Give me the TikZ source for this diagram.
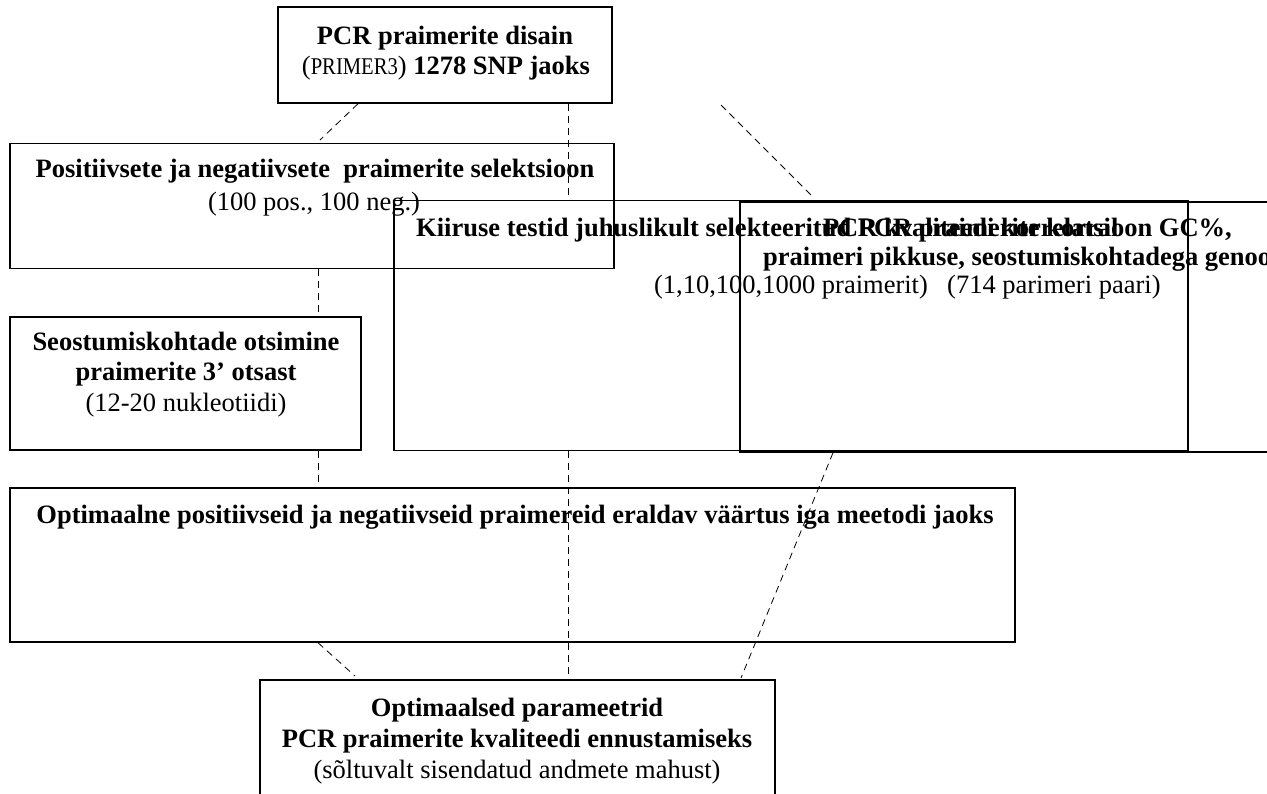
\documentclass[tikz,border=0pt]{standalone}
\usepackage{fontspec}
\setmainfont{Liberation Serif}
\begin{document}
\begin{tikzpicture}[x=1pt,y=-1pt,
  box/.style={draw, line width=1.5pt, inner sep=0pt, fill=none},
  conn/.style={draw, dash pattern=on 7pt off 5pt, line width=0.8pt},
  bt/.style={font=\bfseries\fontsize{26.5}{30}\selectfont, inner sep=0pt},
  rt/.style={font=\fontsize{26.5}{30}\selectfont, inner sep=0pt}]
\useasboundingbox (0,0) rectangle (1267,793);
\clip (0,0) rectangle (1267,793);
% boxes
\node[box, minimum width=334pt, minimum height=96pt] (top) at (445,55) {};
\node[box, minimum width=604pt, minimum height=125pt] (pos) at (312,206) {};
\node[box, minimum width=794pt, minimum height=250pt] (kiir) at (791,325.5) {};
\node[box, minimum width=592pt, minimum height=250pt] (kval) at (1036,327) {};
\node[box, minimum width=351pt, minimum height=133pt] (seos) at (185.5,383.5) {};
\node[box, minimum width=1005pt, minimum height=154pt] (opt) at (512.5,565) {};
\node[box, minimum width=515pt, minimum height=150pt] (par) at (517.5,755) {};
% texts
\node[bt, anchor=base] (t1) at (445,44) {PCR praimerite disain};
\node[bt, anchor=base] (t2) at (446,74) {\mdseries(\scalebox{0.86}[1]{\fontsize{24}{24}\selectfont PRIMER3})\bfseries{} 1278 SNP jaoks};
\node[bt, anchor=base] (p1) at (315,177) {Positiivsete ja negatiivsete\ \ praimerite selektsioon};
\node[rt, anchor=base] (p2) at (314,210) {(100 pos., 100 neg.)};
\node[bt, anchor=base west] (k1) at (416,236) {Kiiruse testid juhuslikult selekteeritud PCR praimerite korral};
\node[rt, anchor=base] (k2) at (791,293) {(1,10,100,1000 praimerit)};
\node[bt, anchor=base east] (q1) at (1232,236) {PCR kvaliteedi korrelatsioon GC\%,};
\node[bt, anchor=base west] (q2) at (763,265) {praimeri pikkuse, seostumiskohtadega genoomis};
\node[rt, anchor=base west] (q3) at (947,293) {(714 parimeri paari)};
\node[bt, anchor=base] (s1) at (186,350) {Seostumiskohtade otsimine};
\node[bt, anchor=base] (s2) at (186,380) {praimerite 3’ otsast};
\node[rt, anchor=base] (s3) at (186,411) {(12-20 nukleotiidi)};
\node[bt, anchor=base] (o1) at (515,523) {Optimaalne positiivseid ja negatiivseid praimereid eraldav väärtus iga meetodi jaoks};
\node[bt, anchor=base] (b1) at (517,716) {Optimaalsed parameetrid};
\node[bt, anchor=base] (b2) at (517,747) {PCR praimerite kvaliteedi ennustamiseks};
\node[rt, anchor=base] (b3) at (517,778) {(sõltuvalt sisendatud andmete mahust)};
% connector end points
\coordinate (c1a) at (top.south -| 358,0);
\coordinate (c1b) at (320,140);
\coordinate (c2a) at (top.south -| 568,0);
\coordinate (c2b) at (kiir.north -| 568,0);
\coordinate (c3a) at (721,105);
\coordinate (c3b) at (813,197);
\coordinate (c4a) at (pos.south -| 318,0);
\coordinate (c4b) at (seos.north -| 318,0);
\coordinate (c5a) at (seos.south -| 318,0);
\coordinate (c5b) at (318,484);
\coordinate (c6a) at (kiir.south -| 568,0);
\coordinate (c6b) at (568,676);
\coordinate (c7a) at (kval.south -| 833,0);
\coordinate (c7b) at (741,678);
\coordinate (c8a) at (opt.south -| 318,0);
\coordinate (c8b) at (355,676);
% connectors
\draw[conn] (c1a) -- (c1b);
\draw[conn] (c2a) -- (c2b);
\draw[conn] (c3a) -- (c3b);
\draw[conn] (c4a) -- (c4b);
\draw[conn] (c5a) -- (c5b);
\draw[conn] (c6a) -- (c6b);
\draw[conn] (c7a) -- (c7b);
\draw[conn] (c8a) -- (c8b);
\end{tikzpicture}
\end{document}
